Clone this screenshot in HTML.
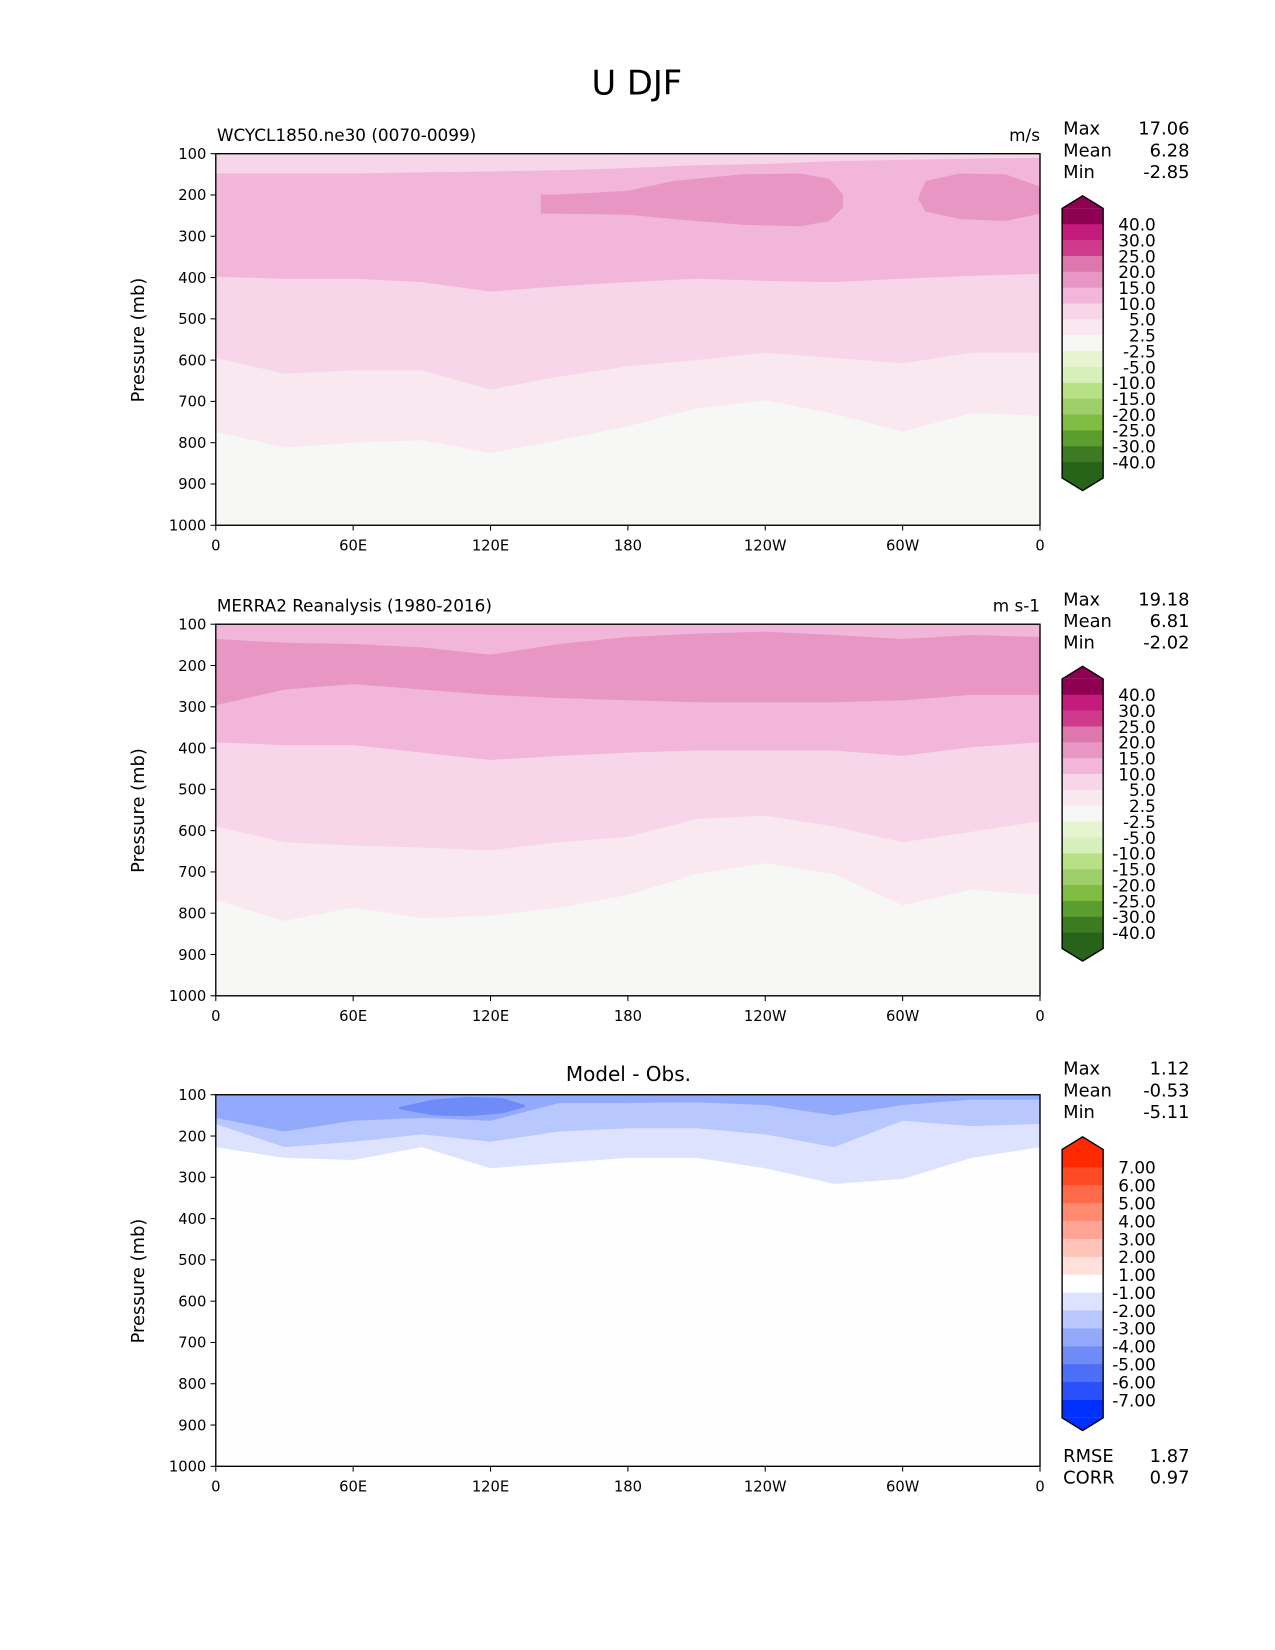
<!DOCTYPE html>
<html><head><meta charset="utf-8">
<style>
html,body{margin:0;padding:0;background:#fff;}
svg{display:block;font-family:"DejaVu Sans","Liberation Sans",sans-serif;}
</style></head>
<body>
<svg id="fig" width="1275" height="1650" viewBox="0 0 1211.25 1567.5" preserveAspectRatio="none" xmlns="http://www.w3.org/2000/svg">
<text x="605" y="90" font-size="32" text-anchor="middle">U DJF</text>
</svg>
<script>
// ---- data ----
const lons = [0,30,60,90,120,150,180,210,240,270,300,330,360];
const pTicks = [100,200,300,400,500,600,700,800,900,1000];
const lonTicks = [0,60,120,180,240,300,360];
const lonLabels = ["0","60E","120E","180","120W","60W","0"];

// Panel 1 (model) contour boundaries (mb)
const m_b25 = [773,812,800,794,825,794,760,717,697,730,773,728,735];
const m_b5  = [595,633,625,625,671,640,615,600,582,595,608,582,582];
const m_b10 = [398,403,403,411,434,421,411,403,408,411,403,396,391];
const m_top = [148,148,148,145,143,140,135,128,125,118,115,112,110];
const m_blobA_lon = [142,150,180,200,230,255,268,274];
const m_blobA_top = [199,199,190,166,150,148,161,199];
const m_blobA_bot = [245,245,248,258,272,276,263,230];
const m_blobB_lon = [307,310,325,345,360];
const m_blobB_top = [205,166,148,150,180];
const m_blobB_bot = [212,240,258,263,245];

// Panel 2 (obs)
const o_b25 = [768,819,786,812,806,786,756,705,679,705,781,743,756];
const o_b5  = [590,628,636,641,648,628,615,572,564,590,628,603,577];
const o_b10 = [386,393,393,411,429,419,411,406,406,406,419,398,386];
const o_b15t= [136,145,148,156,174,148,131,123,118,126,136,126,131];
const o_b15b= [296,258,245,258,271,279,284,289,289,289,284,271,271];

// Panel 3 (diff)
const d_b1 = [227,253,258,227,278,265,253,253,278,316,304,253,227];
const d_b2 = [171,227,214,196,214,189,181,181,196,227,163,176,171];
const d_b3 = [156,189,163,156,163,120,120,118,125,150,125,112,112];
const d_blob4_lon = [80,95,110,125,135];
const d_blob4_top = [130,112,105,108,125];
const d_blob4_bot = [135,150,152,145,130];

const cb1Labels = ["40.0","30.0","25.0","20.0","15.0","10.0","5.0","2.5","-2.5","-5.0","-10.0","-15.0","-20.0","-25.0","-30.0","-40.0"];
const cb1Colors = ["#8e0152","#c51b7d","#cf3a8d","#de77ae","#e896c4","#f1b6da","#f7d6ea","#fae8f1","#f7f7f5","#e6f5d0","#d6efbb","#b8e186","#9fcf6a","#7fbc41","#5a9e30","#3d7a21","#276419"];
const cb3Labels = ["7.00","6.00","5.00","4.00","3.00","2.00","1.00","-1.00","-2.00","-3.00","-4.00","-5.00","-6.00","-7.00"];
const cb3Colors = ["#ff2a00","#ff4a26","#ff6a4a","#ff8a70","#ffa595","#ffc3b8","#ffe0da","#ffffff","#dde3ff","#b9c7ff","#93a9fb","#6e8bf7","#4d6ef8","#2a50fb","#0030ff"];

const NS="http://www.w3.org/2000/svg";
const svg=document.getElementById('fig');
function el(tag,attrs,parent){const e=document.createElementNS(NS,tag);for(const k in attrs)e.setAttribute(k,attrs[k]);(parent||svg).appendChild(e);return e;}
const X0=205,X1=988;
function xs(lon){return X0+lon/360*(X1-X0);}
function ysF(top){return p=>top+(p-100)/900*353;}

function band(g,ys,lo,up,down,color,name){
  let pts=[];
  lo.forEach((l,i)=>pts.push(xs(l).toFixed(1)+','+ys(up[i]).toFixed(1)));
  for(let i=lo.length-1;i>=0;i--)pts.push(xs(lo[i]).toFixed(1)+','+ys(down[i]).toFixed(1));
  const e=el('polygon',{points:pts.join(' '),fill:color},g);
  
  
}
const c100=lons.map(()=>100), c1000=lons.map(()=>1000);

function axes(top){
  const ys=ysF(top);
  const g=el('g',{});
  
  
  return {g,ys};
}
function frame(top,ys,title,unit,center){
  const r=el('rect',{x:X0,y:top,width:X1-X0,height:353,fill:'none',stroke:'#000','stroke-width':1.3});
  
  
  pTicks.forEach(p=>{
    const y=ys(p);
    el('line',{x1:X0-5,x2:X0,y1:y,y2:y,stroke:'#000'});
    const t=el('text',{x:X0-9,y:y+5,'font-size':14,'text-anchor':'end'});t.textContent=p;
    
    
  });
  lonTicks.forEach((l,i)=>{
    const x=xs(l);
    el('line',{x1:x,x2:x,y1:top+353,y2:top+358,stroke:'#000'});
    const t=el('text',{x:x,y:top+377,'font-size':14,'text-anchor':'middle'});t.textContent=lonLabels[i];
    
    
  });
  const yl=el('text',{x:0,y:0,'font-size':17,'text-anchor':'middle',transform:`translate(137,${top+177}) rotate(-90)`});
  yl.textContent='Pressure (mb)';
  
  
  if(center){
    const t=el('text',{x:597,y:top-13,'font-size':19,'text-anchor':'middle'});t.textContent=title;
    
    
  } else {
    const t=el('text',{x:206,y:top-12,'font-size':16});t.textContent=title;
    
    
    const u=el('text',{x:988,y:top-12,'font-size':16,'text-anchor':'end'});u.textContent=unit;
    
    
  }
}
function stats(top,rows){
  rows.forEach((r,i)=>{
    const a=el('text',{x:1010,y:top+i*20.5,'font-size':17});a.textContent=r[0];
    
    
    const b=el('text',{x:1130,y:top+i*20.5,'font-size':17,'text-anchor':'end'});b.textContent=r[1];
    
    
  });
}
function colorbar(tipTop,first,step,labels,colors,name){
  const g=el('g',{});
  
  
  const x0=1009,x1=1048,xm=1028.5;
  const n=labels.length;
  const last=first+step*(n-1);
  const bodyTop=first-step, bodyBot=last+step;
  el('polygon',{points:`${x0},${bodyTop} ${x0},${tipTop+12} ${xm},${tipTop} ${x1},${tipTop+12} ${x1},${bodyTop}`,fill:colors[0]},g);
  el('rect',{x:x0,y:bodyTop,width:x1-x0,height:first-bodyTop+0.5,fill:colors[0]},g);
  for(let i=0;i<n-1;i++){
    el('rect',{x:x0,y:first+i*step,width:x1-x0,height:step+0.5,fill:colors[i+1]},g);
  }
  const bt=bodyBot+(bodyTop-tipTop)-12;
  el('rect',{x:x0,y:last,width:x1-x0,height:bodyBot-last,fill:colors[colors.length-1]},g);
  el('polygon',{points:`${x0},${bodyBot} ${x0},${bt} ${xm},${bt+12} ${x1},${bt} ${x1},${bodyBot}`,fill:colors[colors.length-1]},g);
  el('polygon',{points:`${x0},${tipTop+12} ${xm},${tipTop} ${x1},${tipTop+12} ${x1},${bt} ${xm},${bt+12} ${x0},${bt}`,fill:'none',stroke:'#000','stroke-width':1.3},g);
  labels.forEach((l,i)=>{
    const t=el('text',{x:1098,y:first+i*step+6,'font-size':16,'text-anchor':'end'},g);t.textContent=l;
    
    
  });
}

// Panel 1
(function(){
  const top=146;const {g,ys}=axes(top);
  el('rect',{x:X0,y:top,width:X1-X0,height:353,fill:'#f7f7f5'},g);
  band(g,ys,lons,c100,m_b25,'#fae8f1','band-2p5-5');
  band(g,ys,lons,c100,m_b5,'#f7d6ea','band-5-10');
  band(g,ys,lons,m_top,m_b10,'#f1b6da','band-10-15');
  band(g,ys,m_blobA_lon,m_blobA_top,m_blobA_bot,'#e896c4','jet-core-pacific');
  band(g,ys,m_blobB_lon,m_blobB_top,m_blobB_bot,'#e896c4','jet-core-atlantic');
  frame(top,ys,'WCYCL1850.ne30 (0070-0099)','m/s',false);
  stats(128,[['Max','17.06'],['Mean','6.28'],['Min','-2.85']]);
  colorbar(186,213,15.07,cb1Labels,cb1Colors,'colorbar-model');
})();
// Panel 2
(function(){
  const top=593;const {g,ys}=axes(top);
  el('rect',{x:X0,y:top,width:X1-X0,height:353,fill:'#f7f7f5'},g);
  band(g,ys,lons,c100,o_b25,'#fae8f1','band-2p5-5');
  band(g,ys,lons,c100,o_b5,'#f7d6ea','band-5-10');
  band(g,ys,lons,c100,o_b10,'#f1b6da','band-10-15');
  band(g,ys,lons,o_b15t,o_b15b,'#e896c4','band-15-20');
  frame(top,ys,'MERRA2 Reanalysis (1980-2016)','m s-1',false);
  stats(575,[['Max','19.18'],['Mean','6.81'],['Min','-2.02']]);
  colorbar(633,660,15.07,cb1Labels,cb1Colors,'colorbar-obs');
})();
// Panel 3
(function(){
  const top=1040;const {g,ys}=axes(top);
  el('rect',{x:X0,y:top,width:X1-X0,height:353,fill:'#fefefe'},g);
  band(g,ys,lons,c100,d_b1,'#dde3ff','band-minus1-2');
  band(g,ys,lons,c100,d_b2,'#b9c7ff','band-minus2-3');
  band(g,ys,lons,c100,d_b3,'#93a9fb','band-minus3-4');
  band(g,ys,d_blob4_lon,d_blob4_top,d_blob4_bot,'#6e8bf7','band-minus4-5');
  frame(top,ys,'Model - Obs.','',true);
  stats(1021,[['Max','1.12'],['Mean','-0.53'],['Min','-5.11']]);
  colorbar(1080,1109,17.0,cb3Labels,cb3Colors,'colorbar-diff');
  stats(1389,[['RMSE','1.87'],['CORR','0.97']]);
})();
</script>
</body></html>
